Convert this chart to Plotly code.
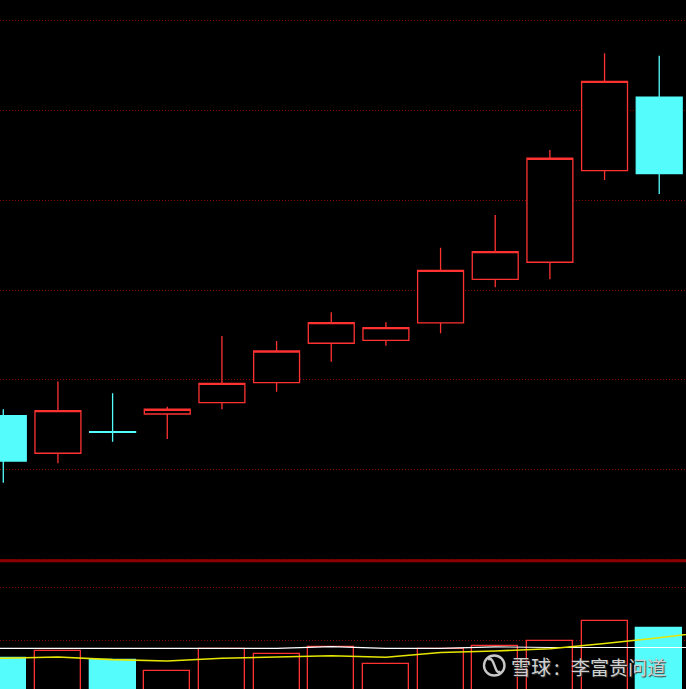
import plotly.graph_objects as go

# ---- data ----
days = list(range(13))
open_ = [10.601, 10.183, 10.423, 10.620, 10.746, 10.969, 11.408, 11.441, 11.634, 12.120, 12.310, 13.330, 14.150]
high = [10.673, 10.982, 10.851, 10.702, 11.489, 11.433, 11.753, 11.641, 12.472, 12.836, 13.560, 14.637, 14.610]
low = [9.855, 10.071, 10.312, 10.342, 10.673, 10.869, 11.203, 11.381, 11.519, 12.031, 12.120, 13.226, 13.070]
close = [10.097, 10.657, 10.416, 10.673, 10.962, 11.322, 11.637, 11.581, 12.220, 12.428, 13.468, 14.325, 13.296]

volume = [1.668, 1.811, 1.636, 1.434, 1.843, 1.743, 1.881, 1.555, 1.849, 1.906, 1.994, 2.372, 2.234]

# moving-average lines also run off both edges of the view
ma_days = list(range(-1, 14))
vol_ma_white = [1.857, 1.857, 1.857, 1.857, 1.857, 1.857, 1.857, 1.887, 1.857, 1.857, 1.884, 1.872, 1.872, 1.872, 1.872]
vol_ma_yellow = [1.668, 1.668, 1.692, 1.642, 1.617, 1.668, 1.692, 1.717, 1.687, 1.777, 1.806, 1.847, 1.947, 2.055, 2.183]

price_grid = [9, 10, 11, 12, 13, 14, 15]
vol_grid = [2, 3]

RED = "#ff3232"
CYAN = "#54fcfc"
GRID = "#8a0000"
W, H = 686, 689

up = [c >= o for o, c in zip(open_, close)]

fig = go.Figure()

fig.add_trace(go.Candlestick(
    x=days, open=open_, high=high, low=low, close=close,
    increasing=dict(line=dict(color=RED, width=1.3), fillcolor="#000000"),
    decreasing=dict(line=dict(color=CYAN, width=1.3), fillcolor=CYAN),
    whiskerwidth=0, xaxis="x", yaxis="y", showlegend=False, hoverinfo="skip",
))

fig.add_trace(go.Bar(
    x=days, y=volume, width=0.84,
    marker=dict(color=["#000000" if u else CYAN for u in up],
                line=dict(color=[RED if u else CYAN for u in up], width=1.3)),
    xaxis="x", yaxis="y2", showlegend=False, hoverinfo="skip",
))

fig.add_trace(go.Scatter(
    x=ma_days, y=vol_ma_white, mode="lines",
    line=dict(color="#ffffff", width=1.2),
    xaxis="x", yaxis="y2", showlegend=False, hoverinfo="skip",
))
fig.add_trace(go.Scatter(
    x=ma_days, y=vol_ma_yellow, mode="lines",
    line=dict(color="#e6e600", width=1.6),
    xaxis="x", yaxis="y2", showlegend=False, hoverinfo="skip",
))

def px(x):
    return x / W

def py(y):
    return 1 - y / H

main_bottom = 560.7
vol_top = 562.0

shapes = [
    dict(type="line", xref="paper", yref="paper", x0=0, x1=1,
         y0=py(main_bottom), y1=py(main_bottom),
         line=dict(color="#8c0000", width=3), layer="above"),
    # watermark logo circle
    dict(type="circle", xref="paper", yref="paper",
         x0=px(484), x1=px(504.5), y0=py(675.5), y1=py(655.5),
         line=dict(color="#c8c8c8", width=2.4), layer="above"),
    dict(type="path", xref="paper", yref="paper",
         path=(f"M {px(488)},{py(659.5)} C {px(495)},{py(655)} {px(494)},{py(676)} "
               f"{px(500.5)},{py(671.5)}"),
         line=dict(color="#c8c8c8", width=2.4), layer="above"),
]

fig.update_layout(
    width=W, height=H,
    margin=dict(l=0, r=0, t=0, b=0),
    paper_bgcolor="#000000", plot_bgcolor="#000000",
    boxgap=0.16, boxgroupgap=0,
    bargap=0,
    xaxis=dict(range=[-0.06, 12.49], showgrid=False, zeroline=False,
               showticklabels=False, ticks="", rangeslider=dict(visible=False),
               fixedrange=True, anchor="y2"),
    yaxis=dict(domain=[py(main_bottom), 1], range=[8.9866, 15.2305],
               tickmode="array", tickvals=price_grid,
               showgrid=True, gridcolor=GRID, gridwidth=1, griddash="1px,2px",
               zeroline=False, showticklabels=False, ticks="", anchor="x"),
    yaxis2=dict(domain=[0, py(vol_top)], range=[1.0887, 3.4849],
                tickmode="array", tickvals=vol_grid,
                showgrid=True, gridcolor=GRID, gridwidth=1, griddash="1px,2px",
                zeroline=False, showticklabels=False, ticks="", anchor="x"),
    shapes=shapes,
    annotations=[
        dict(xref="paper", yref="paper", x=px(509), y=py(666), xanchor="left", yanchor="middle",
             text="雪球", showarrow=False,
             font=dict(family="Noto Sans CJK SC", size=20, color="#d0d0d0",
                       shadow="1px 1px 1px #3a3a3a")),
        dict(xref="paper", yref="paper", x=px(557), y=py(666), xanchor="center", yanchor="middle",
             text=":", showarrow=False,
             font=dict(family="Noto Sans CJK SC", size=20, color="#d0d0d0",
                       shadow="1px 1px 1px #3a3a3a")),
        dict(xref="paper", yref="paper", x=px(569), y=py(666), xanchor="left", yanchor="middle",
             text="李富贵问道", showarrow=False,
             font=dict(family="Noto Sans CJK SC", size=19, color="#d0d0d0",
                       shadow="1px 1px 1px #3a3a3a")),
    ],
)

fig.write_html("out.html", config={"displayModeBar": False},
               post_script="document.body.style.margin='0';document.body.style.background='#000';")
